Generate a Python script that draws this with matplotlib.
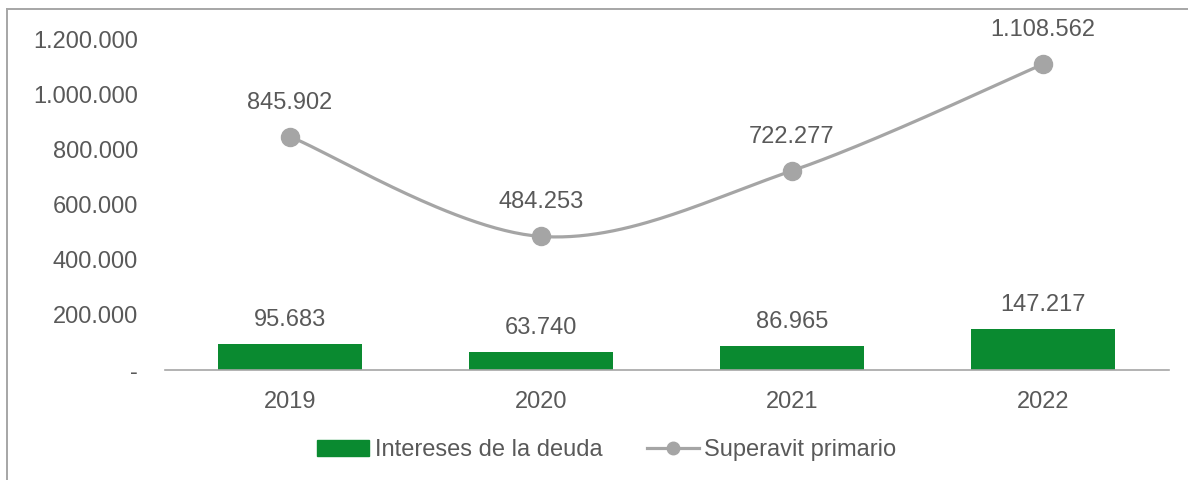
import matplotlib
matplotlib.use("Agg")
import matplotlib.pyplot as plt
import numpy as np
from matplotlib.patches import Rectangle
from matplotlib.lines import Line2D

years = ["2019", "2020", "2021", "2022"]
intereses = [95683, 63740, 86965, 147217]
superavit = [845902, 484253, 722277, 1108562]
yticks = [0, 200000, 400000, 600000, 800000, 1000000, 1200000]

plt.rcParams['font.family'] = ['Liberation Sans', 'DejaVu Sans']
txt = '#595959'
green = '#0a8a30'
gray = '#a5a5a5'
FS = 17

def fmt(v):
    return "-" if v == 0 else f"{v:,.0f}".replace(",", ".")

W, H = 1188, 480
fig = plt.figure(figsize=(W / 100, H / 100), dpi=100)
# frame: only left and top edges visible
fig.add_artist(Line2D([7 / W, 7 / W], [0, 1 - 9.3 / H], transform=fig.transFigure,
                      color='#a6a6a6', lw=1.4))
fig.add_artist(Line2D([7 / W, 1], [1 - 9.3 / H, 1 - 9.3 / H], transform=fig.transFigure,
                      color='#a6a6a6', lw=1.4))

ax = fig.add_axes([164.5 / W, 110 / H, 1004 / W, 331 / H])
x = np.arange(len(years))
ax.bar(x, intereses, width=0.57, color=green, zorder=2)

# Excel-like smooth curve (cubic Bezier, Catmull-Rom)
P = np.column_stack([x, superavit]).astype(float)
Pe = np.vstack([P[0], P, P[-1]])
curve = []
t = np.linspace(0, 1, 60)[:, None]
for i in range(len(P) - 1):
    p0, p3 = Pe[i + 1], Pe[i + 2]
    c1 = p0 + (Pe[i + 2] - Pe[i]) / 6
    c2 = p3 - (Pe[i + 3] - Pe[i + 1]) / 6
    seg = (1 - t)**3 * p0 + 3 * (1 - t)**2 * t * c1 + 3 * (1 - t) * t**2 * c2 + t**3 * p3
    curve.append(seg)
curve = np.vstack(curve)
ax.plot(curve[:, 0], curve[:, 1], color=gray, lw=2.3, zorder=3)
ax.plot(x, superavit, 'o', color=gray, ms=13, zorder=4)

for xi, v in zip(x, intereses):
    ax.annotate(fmt(v), (xi, v), xytext=(0, 24), textcoords='offset pixels',
                ha='center', va='center', fontsize=FS, color=txt)
for xi, v in zip(x, superavit):
    ax.annotate(fmt(v), (xi, v), xytext=(0, 34), textcoords='offset pixels',
                ha='center', va='center', fontsize=FS, color=txt)

ax.set_xlim(-0.5, len(years) - 0.5)
ax.set_ylim(0, 1200000)
ax.set_yticks(yticks)
ax.set_yticklabels([fmt(v) for v in yticks])
ax.set_xticks(x)
ax.set_xticklabels(years)
ax.tick_params(axis='y', length=0, pad=19, labelsize=FS, labelcolor=txt)
ax.tick_params(axis='x', length=0, pad=15, labelsize=FS, labelcolor=txt)
for s in ['top', 'right', 'left']:
    ax.spines[s].set_visible(False)
ax.spines['bottom'].set_color('#a6a6a6')
ax.spines['bottom'].set_linewidth(1.2)

handles = [Rectangle((0, 0), 1, 1, color=green),
           Line2D([0], [0], color=gray, lw=2.3, marker='o', ms=9)]
fig.legend(handles, ["Intereses de la deuda", "Superavit primario"],
           loc='center', bbox_to_anchor=(607 / W, 1 - 450 / H), ncol=2, frameon=False,
           fontsize=FS, labelcolor=txt, handlelength=2.2, handletextpad=0.25,
           columnspacing=1.85, handleheight=0.64)

fig.savefig("out.png", dpi=100)
